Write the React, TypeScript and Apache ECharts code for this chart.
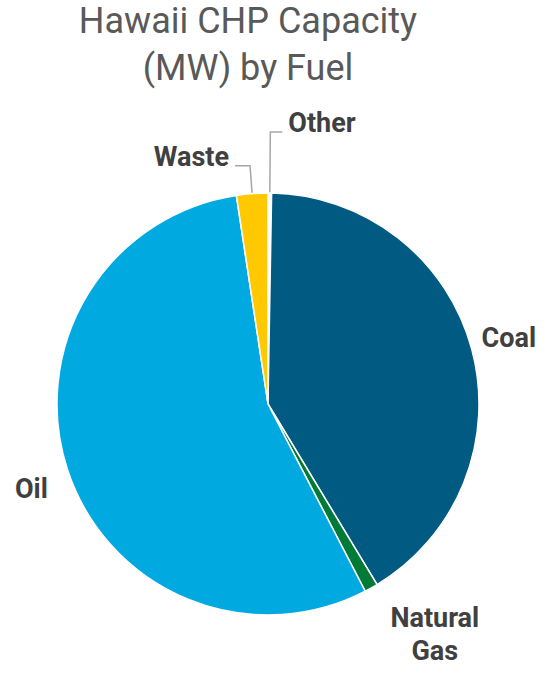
import React, { useEffect, useRef } from "react";
import * as echarts from "echarts";

const titleLines = ["Hawaii CHP Capacity", "(MW) by Fuel"];
const categories = ["Other", "Coal", "Natural\nGas", "Oil", "Waste"];
const values = [1.2, 180, 4.5, 242, 10.5];
const colors = ["#FFFFFF", "#005A82", "#007A37", "#00A9E0", "#FFC800"];

const labelStyles: any[] = [
  { lineShow: true, length: 61, length2: 12, align: "left", vAlign: "bottom", dx: 0, dy: 0 },
  { lineShow: false, length: 6, length2: 0, align: "left", vAlign: "middle", dx: -2, dy: -10 },
  { lineShow: false, length: 38, length2: 0, align: "center", vAlign: "middle", dx: 39, dy: 13 },
  { lineShow: false, length: 10, length2: 0, align: "right", vAlign: "middle", dx: -4, dy: 17 },
  { lineShow: true, length: 28, length2: 15, align: "right", vAlign: "bottom", dx: 0, dy: 0 },
];

export default function App() {
  const ref = useRef<HTMLDivElement>(null);
  useEffect(() => {
    document.body.style.margin = "0";
    const chart = echarts.init(ref.current!, undefined, { renderer: "svg" });
    const data = categories.map((name, i) => ({
      name,
      value: values[i],
      itemStyle: { color: colors[i] },
      label: {
        lineHeight: labelStyles[i].vAlign === "bottom" ? 18 : 33,
      },
      labelLine: {
        show: labelStyles[i].lineShow,
        length: labelStyles[i].length,
        length2: labelStyles[i].length2,
      },
    }));
    chart.setOption({
      animation: false,
      graphic: [
        {
          type: "text",
          x: 248,
          y: -3,
          style: {
            text: titleLines.join("\n"),
            textAlign: "center",
            fontFamily: "Roboto",
            fontSize: 36,
            fontWeight: "normal",
            fill: "#595959",
            lineHeight: 47,
          },
        },
      ],
      series: [
        {
          type: "pie",
          center: [268, 404],
          radius: [0, 211],
          startAngle: 90,
          clockwise: true,
          avoidLabelOverlap: false,
          itemStyle: { borderColor: "#ffffff", borderWidth: 1.5 },
          label: {
            show: true,
            position: "outside",
            formatter: "{b}",
            fontFamily: "Roboto",
            fontSize: 27,
            fontWeight: "bold",
            color: "#404040",
            distanceToLabelLine: 6,
          },
          labelLine: {
            lineStyle: { color: "#A6A6A6", width: 1.5 },
          },
          labelLayout: (params: any) => {
            const s = labelStyles[params.dataIndex];
            const out: any = { align: s.align, verticalAlign: s.vAlign };
            if (s.dx) out.dx = s.dx;
            if (s.dy) out.dy = s.dy;
            return out;
          },
          data,
        },
      ],
    });
    return () => chart.dispose();
  }, []);
  return <div ref={ref} style={{ width: 550, height: 677 }} />;
}
